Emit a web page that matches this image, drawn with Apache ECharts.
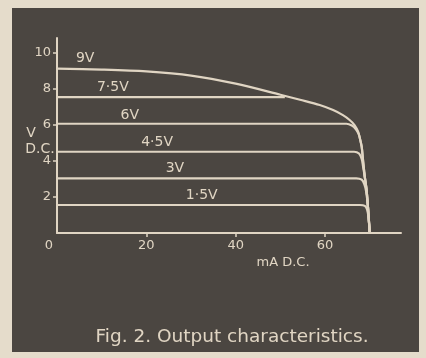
<!DOCTYPE html>
<html>
<head>
<meta charset="utf-8">
<script src="https://cdn.jsdelivr.net/npm/echarts@6/dist/echarts.min.js"></script>
<style>
  html, body { margin: 0; padding: 0; background: #e5dccb; }
  #chart { width: 426px; height: 358px; }
</style>
</head>
<body>
<div id="chart"></div>
<script>
// output characteristics: [mA, V]
const supply9 = [[0, 9.1], [10, 9.05], [20, 8.95], [30, 8.72], [40, 8.27], [50, 7.66],
  [54.4, 7.38], [58.8, 7.09], [61.8, 6.81], [64, 6.53], [65.5, 6.26], [66.6, 5.98], [67.4, 5.61],
  [67.8, 5.24], [68.2, 4.78], [68.5, 4.04], [68.9, 3.1], [69.3, 2.38], [69.6, 1.46], [70, 0]]
const supply7_5 = [[0, 7.52], [51, 7.52]]
const supply6 = [[0, 6.05], [64.8, 6.05], [66, 5.95], [66.9, 5.75], [67.5, 5.5], [67.8, 5.24], [68.2, 4.78],
  [68.5, 4.04], [68.9, 3.1], [69.3, 2.38], [69.6, 1.46], [70, 0]]
const supply4_5 = [[0, 4.5], [66.5, 4.5], [67.6, 4.4], [68.2, 4.1], [68.5, 3.7], [68.9, 3.1], [69.3, 2.38],
  [69.6, 1.46], [70, 0]]
const supply3 = [[0, 3.03], [67, 3.03], [68.2, 2.95], [68.8, 2.7], [69.2, 2.3], [69.6, 1.46], [70, 0]]
const supply1_5 = [[0, 1.55], [67.8, 1.55], [68.9, 1.5], [69.4, 1.3], [69.7, 0.9], [70, 0]]

const seriesNames = ['9V', '7·5V', '6V', '4·5V', '3V', '1·5V']
const seriesData = [supply9, supply7_5, supply6, supply4_5, supply3, supply1_5]

const xTicks = [0, 20, 40, 60]
const yTicks = [2, 4, 6, 8, 10]

const ink = '#e0d5c3'
const font = 'DejaVu Sans'

// where each curve's label sits
const labelAt = [[6.3, 9.69], [12.5, 8.09], [16.3, 6.53], [22.4, 5.04], [26.4, 3.6], [32.4, 2.1]]

const chart = echarts.init(document.getElementById('chart'))
chart.setOption({
    animation: false,
    backgroundColor: '#e5dccb',
    graphic: [
        {
            type: 'rect',
            z: -10,
            shape: { x: 12, y: 8, width: 407, height: 344 },
            style: { fill: '#4b4641' }
        },
        {
            type: 'text', x: 31, y: 133,
            style: { text: 'V', fill: ink, font: '14px ' + font, align: 'center', verticalAlign: 'middle' }
        },
        {
            type: 'text', x: 40, y: 149,
            style: { text: 'D.C.', fill: ink, font: '14px ' + font, align: 'center', verticalAlign: 'middle' }
        },
        {
            type: 'text', x: 283, y: 263,
            style: { text: 'mA D.C.', fill: ink, font: '13px ' + font, align: 'center', verticalAlign: 'middle' }
        },
        {
            type: 'text', x: 232, y: 337.5,
            style: { text: 'Fig. 2. Output characteristics.', fill: ink, font: '18.5px ' + font, align: 'center', verticalAlign: 'middle' }
        }
    ],
    grid: { left: 57, right: 25, top: 38, bottom: 125 },
    xAxis: {
        type: 'value',
        min: 0,
        max: 77,
        axisLine: { lineStyle: { color: ink, width: 2 } },
        axisTick: { show: true, customValues: [20, 40, 60], length: 4, lineStyle: { color: ink, width: 1.5 } },
        axisLabel: {
            customValues: xTicks,
            color: ink,
            fontFamily: font,
            fontSize: 13,
            margin: 6,
            formatter: v => v === 0 ? '{z|0}' : String(v),
            rich: { z: { color: ink, fontFamily: font, fontSize: 13, padding: [0, 16, 0, 0] } }
        },
        splitLine: { show: false }
    },
    yAxis: {
        type: 'value',
        min: 0,
        max: 10.8,
        axisLine: { show: true, lineStyle: { color: ink, width: 2 } },
        axisTick: { show: true, customValues: yTicks, length: 4, lineStyle: { color: ink, width: 1.5 } },
        axisLabel: { customValues: yTicks, color: ink, fontFamily: font, fontSize: 13, margin: 6 },
        splitLine: { show: false }
    },
    series: seriesData.map((d, i) => ({
        name: seriesNames[i],
        type: 'line',
        data: d,
        smooth: 0.3,
        showSymbol: false,
        lineStyle: { color: ink, width: 2.2 },
        markPoint: {
            symbol: 'circle',
            symbolSize: 0,
            data: [{ coord: labelAt[i], value: seriesNames[i] }],
            label: {
                show: true,
                position: 'inside',
                formatter: seriesNames[i],
                color: ink,
                fontFamily: font,
                fontSize: 14
            }
        }
    }))
})
</script>
</body>
</html>
